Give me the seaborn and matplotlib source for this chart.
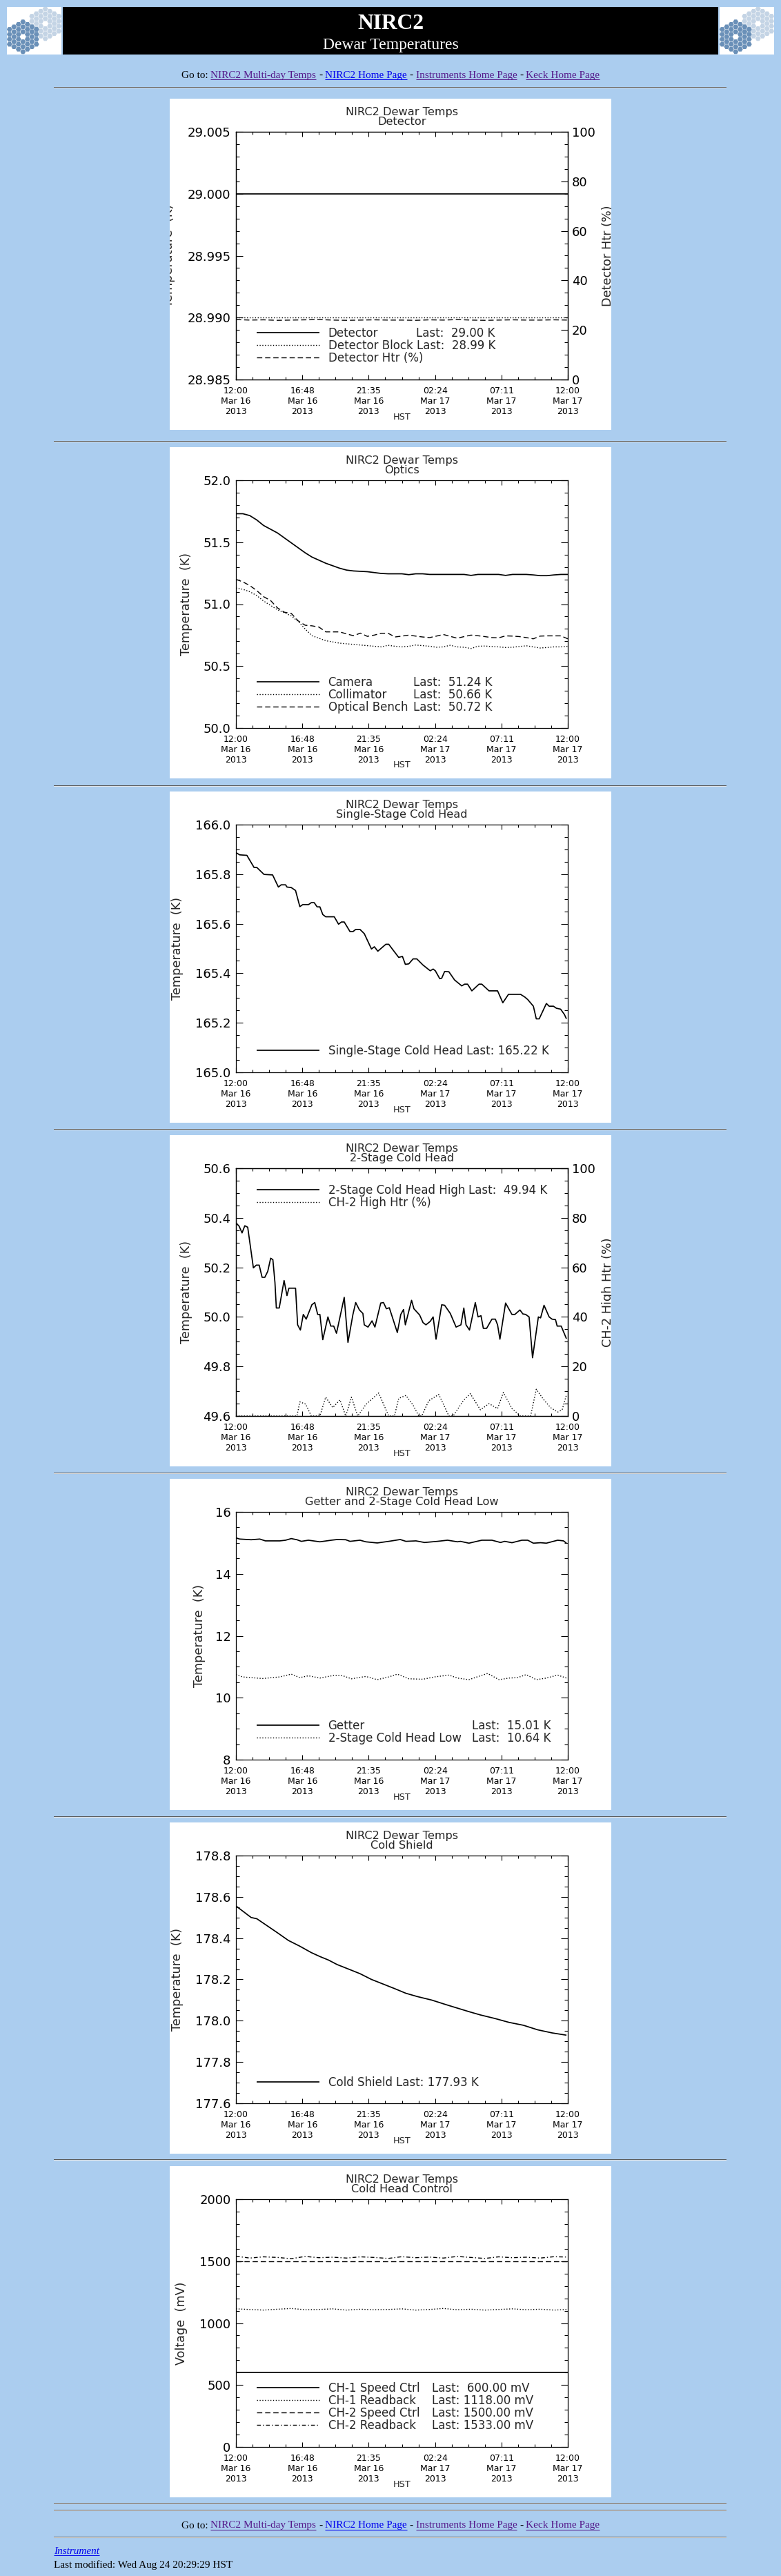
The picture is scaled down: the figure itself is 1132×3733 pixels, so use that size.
import numpy as np
import seaborn as sns
import matplotlib
matplotlib.use('Agg')
import matplotlib.pyplot as plt
from matplotlib.lines import Line2D
from matplotlib.patches import Rectangle, RegularPolygon
from matplotlib.ticker import MultipleLocator, FormatStrFormatter
from matplotlib.transforms import Bbox, TransformedBbox

# ---------------------------------------------------------------- data
TIME_TICKS = [0, 4.8, 9.6, 14.4, 19.2, 24]
TIME_LABELS = ['12:00\nMar 16\n2013', '16:48\nMar 16\n2013', '21:35\nMar 16\n2013',
               '02:24\nMar 17\n2013', '07:11\nMar 17\n2013', '12:00\nMar 17\n2013']
HOURLY = list(range(25))
HALF_HOURLY = [i * 0.5 for i in range(49)]
ENDS = [0, 24]

# Detector
DET_TEMP = [29.000, 29.000]
DET_BLOCK = [28.990, 28.990]
DET_HTR = [24.2, 24.0, 24.1, 23.9, 24.0, 24.1, 24.2, 24.0, 23.9, 24.0, 24.1, 24.0, 24.0,
           23.9, 24.1, 24.0, 24.2, 24.0, 23.9, 24.0, 24.1, 24.0, 24.0, 24.1, 24.0]
DET_LEGEND = [('solid', 'Detector', 'Last:  29.00 K'),
              ('dotted', 'Detector Block', 'Last:  28.99 K'),
              ('dashed', 'Detector Htr (%)', '')]

# Optics
OPTICS_CAMERA = [51.73, 51.73, 51.715, 51.68, 51.635, 51.605, 51.575, 51.535, 51.495, 51.455,
                 51.415, 51.38, 51.355, 51.33, 51.31, 51.29, 51.275, 51.268, 51.265, 51.262,
                 51.255, 51.248, 51.245, 51.245, 51.245, 51.238, 51.245, 51.245, 51.24, 51.24,
                 51.24, 51.24, 51.24, 51.24, 51.232, 51.24, 51.24, 51.24, 51.24, 51.232,
                 51.24, 51.24, 51.24, 51.236, 51.23, 51.23, 51.236, 51.24, 51.24]
OPTICS_COLLIMATOR = [51.13, 51.12, 51.10, 51.07, 51.025, 50.99, 50.955, 50.93, 50.905, 50.86,
                     50.80, 50.745, 50.725, 50.705, 50.695, 50.685, 50.68, 50.675, 50.67, 50.665,
                     50.66, 50.655, 50.668, 50.66, 50.655, 50.66, 50.67, 50.665, 50.66, 50.652,
                     50.655, 50.668, 50.655, 50.652, 50.642, 50.66, 50.662, 50.658, 50.655, 50.65,
                     50.652, 50.658, 50.664, 50.655, 50.646, 50.65, 50.655, 50.655, 50.66]
OPTICS_BENCH = [51.20, 51.18, 51.15, 51.11, 51.06, 51.03, 50.97, 50.935, 50.925, 50.865,
                50.83, 50.825, 50.815, 50.776, 50.776, 50.776, 50.76, 50.745, 50.766, 50.74,
                50.75, 50.765, 50.765, 50.735, 50.742, 50.75, 50.742, 50.735, 50.73, 50.742,
                50.755, 50.74, 50.725, 50.738, 50.75, 50.745, 50.738, 50.73, 50.728, 50.744,
                50.742, 50.738, 50.73, 50.72, 50.742, 50.744, 50.744, 50.744, 50.72]
OPTICS_LEGEND = [('solid', 'Camera', 'Last:  51.24 K'),
                 ('dotted', 'Collimator', 'Last:  50.66 K'),
                 ('dashed', 'Optical Bench', 'Last:  50.72 K')]

# Single-stage cold head
SSCH_HOURS = [0.0, 0.27, 0.79, 1.31, 1.51, 2.03, 2.65, 3.07, 3.27, 3.59,
              3.69, 4.0, 4.31, 4.62, 4.83, 5.24, 5.45, 5.66, 5.87, 6.07,
              6.28, 6.49, 7.11, 7.42, 7.63, 7.83, 8.25, 8.46, 8.66, 8.97,
              9.28, 9.80, 10.01, 10.26, 10.84, 11.05, 11.36, 11.77, 12.04, 12.25,
              12.50, 12.81, 13.08, 13.53, 14.05, 14.26, 14.42, 14.74, 14.88, 15.09,
              15.40, 15.81, 16.33, 16.54, 16.75, 17.06, 17.58, 17.78, 18.30, 18.92,
              19.30, 19.71, 20.58, 20.89, 21.10, 21.51, 21.72, 21.93, 22.45, 22.65,
              22.96, 23.17, 23.48, 23.75, 23.90]
SSCH_TEMP = [165.887, 165.878, 165.876, 165.827, 165.827, 165.799, 165.797, 165.748, 165.757, 165.757,
             165.748, 165.746, 165.734, 165.669, 165.677, 165.677, 165.685, 165.685, 165.668, 165.668,
             165.637, 165.628, 165.628, 165.598, 165.607, 165.607, 165.568, 165.568, 165.577, 165.577,
             165.560, 165.498, 165.507, 165.489, 165.517, 165.517, 165.494, 165.464, 165.468, 165.436,
             165.438, 165.458, 165.458, 165.433, 165.410, 165.417, 165.410, 165.378, 165.380, 165.407,
             165.406, 165.373, 165.349, 165.356, 165.356, 165.329, 165.356, 165.356, 165.329, 165.329,
             165.281, 165.315, 165.315, 165.304, 165.294, 165.267, 165.216, 165.216, 165.278, 165.267,
             165.267, 165.259, 165.255, 165.234, 165.216]
SSCH_LEGEND = [('solid', 'Single-Stage Cold Head', 'Last: 165.22 K')]

# 2-stage cold head
CH2_HOURS = [0.0, 0.23, 0.44, 0.64, 0.85, 1.06, 1.26, 1.47, 1.68, 1.89,
             2.09, 2.30, 2.51, 2.67, 2.82, 2.92, 3.13, 3.48, 3.69, 3.83,
             4.31, 4.46, 4.66, 4.87, 5.08, 5.49, 5.70, 5.91, 6.07, 6.28,
             6.65, 6.86, 7.07, 7.27, 7.83, 8.10, 8.46, 8.66, 8.93, 9.18,
             9.28, 9.55, 9.84, 10.05, 10.47, 10.67, 10.88, 11.09, 11.67, 11.92,
             12.12, 12.25, 12.70, 12.87, 13.28, 13.53, 13.74, 14.05, 14.26, 14.47,
             14.88, 15.09, 15.50, 15.92, 16.27, 16.48, 16.64, 16.89, 17.31, 17.51,
             17.72, 17.89, 18.13, 18.51, 18.76, 18.92, 19.09, 19.50, 19.96, 20.17,
             20.54, 20.75, 20.95, 21.20, 21.45, 21.87, 22.03, 22.28, 22.65, 22.86,
             23.11, 23.23, 23.52, 23.90]
CH2_TEMP = [50.380, 50.366, 50.339, 50.368, 50.362, 50.278, 50.198, 50.209, 50.209, 50.160,
            50.160, 50.184, 50.237, 50.231, 50.139, 50.036, 50.036, 50.147, 50.086, 50.116,
            50.116, 49.968, 49.947, 50.010, 49.991, 50.049, 50.058, 50.010, 50.010, 49.908,
            50.000, 49.963, 49.963, 49.934, 50.079, 49.897, 50.010, 50.058, 50.028, 50.014,
            49.968, 49.959, 49.984, 49.959, 50.056, 50.058, 50.033, 50.037, 49.937, 50.010,
            50.030, 49.968, 50.067, 50.033, 50.008, 49.977, 49.968, 49.982, 50.000, 49.910,
            50.049, 50.047, 50.014, 49.959, 49.968, 50.036, 49.968, 49.947, 50.058, 50.000,
            50.005, 49.954, 49.954, 49.991, 49.991, 49.968, 49.910, 50.056, 50.010, 50.010,
            50.028, 50.012, 50.010, 50.000, 49.835, 50.000, 49.996, 50.047, 50.000, 49.991,
            49.989, 49.963, 49.963, 49.912]
CH2_HTR_HOURS = [0.0, 4.41, 4.62, 5.04, 5.45, 6.07, 6.49, 7.00, 7.52, 7.94,
                 8.35, 8.81, 9.39, 10.32, 11.05, 11.46, 11.77, 12.29, 12.81, 13.22,
                 13.43, 13.95, 14.67, 15.40, 15.71, 16.44, 16.95, 17.68, 18.30, 18.92,
                 19.34, 19.96, 20.58, 21.31, 21.72, 22.24, 22.75, 23.27, 23.59, 23.90]
CH2_HTR = [0, 0, 5.7, 4.8, 0, 0, 7.6, 3.4, 6.5, 0,
           7.6, 0, 4.6, 9.3, 0, 0, 7.1, 8.3, 4.4, 0,
           0, 6.2, 8.7, 0, 0, 6.2, 9.0, 2.5, 5.0, 3.0,
           9.5, 3.0, 0, 0, 10.8, 6.7, 3.4, 1.6, 2.5, 8.5]
CH2_LEGEND = [('solid', '2-Stage Cold Head High', 'Last:  49.94 K'),
              ('dotted', 'CH-2 High Htr (%)', '')]

# Getter and 2-stage cold head low
GETTER_HOURS = [0.0, 0.27, 1.10, 1.72, 2.13, 3.17, 3.59, 4.0, 4.41, 4.73,
                5.24, 6.07, 6.90, 7.32, 7.94, 8.25, 8.97, 9.39, 10.22, 11.05,
                11.88, 12.29, 13.02, 13.64, 14.57, 15.30, 16.02, 16.23, 16.85, 17.78,
                18.51, 19.13, 19.44, 19.96, 20.68, 21.10, 21.51, 22.03, 22.45, 23.27,
                23.69, 23.90]
GETTER_TEMP = [15.161, 15.124, 15.102, 15.124, 15.065, 15.065, 15.087, 15.139, 15.102, 15.050,
               15.087, 15.035, 15.087, 15.109, 15.102, 15.050, 15.087, 15.035, 14.998, 15.050,
               15.109, 15.050, 15.065, 15.013, 15.050, 15.087, 15.035, 15.050, 14.991, 15.087,
               15.087, 15.013, 15.050, 15.006, 15.087, 15.087, 14.991, 15.006, 14.991, 15.087,
               15.065, 14.991]
CH2LOW_HOURS = [0.0, 0.48, 1.10, 1.93, 3.17, 4.0, 4.62, 5.24, 6.07, 7.11,
                7.73, 8.35, 9.39, 10.22, 11.05, 11.67, 12.50, 13.53, 14.36, 15.40,
                16.02, 16.85, 17.68, 18.20, 19.03, 19.75, 20.37, 20.99, 21.72, 22.45,
                23.27, 23.90]
CH2LOW_TEMP = [10.746, 10.672, 10.649, 10.620, 10.672, 10.761, 10.649, 10.709, 10.635, 10.724,
               10.709, 10.612, 10.687, 10.583, 10.672, 10.761, 10.612, 10.597, 10.672, 10.731,
               10.635, 10.583, 10.709, 10.783, 10.583, 10.635, 10.649, 10.746, 10.583, 10.635,
               10.731, 10.635]
GETTER_LEGEND = [('solid', 'Getter', 'Last:  15.01 K'),
                 ('dotted', '2-Stage Cold Head Low', 'Last:  10.64 K')]

# Cold shield
SHIELD_HOURS = [0.0, 1.10, 1.51, 2.96, 3.79, 4.62, 5.45, 6.07, 6.69, 7.32,
                8.15, 8.97, 9.80, 10.63, 11.46, 12.29, 13.12, 14.16, 15.19, 16.02,
                16.85, 17.68, 18.72, 19.75, 20.79, 21.82, 22.86, 23.90]
SHIELD_TEMP = [178.556, 178.500, 178.494, 178.428, 178.389, 178.361, 178.330, 178.311, 178.294, 178.272,
               178.250, 178.228, 178.200, 178.178, 178.156, 178.133, 178.117, 178.100, 178.078, 178.061,
               178.044, 178.028, 178.011, 177.992, 177.978, 177.956, 177.941, 177.930]
SHIELD_LEGEND = [('solid', 'Cold Shield', 'Last: 177.93 K')]

# Cold head control
CH1_SPEED = [600, 600]
CH1_READBACK = [1115, 1110, 1105, 1112, 1118, 1108, 1110, 1115, 1105, 1112, 1108, 1110, 1115,
                1105, 1110, 1118, 1108, 1112, 1105, 1110, 1115, 1108, 1112, 1105, 1110]
CH2_SPEED = [1500, 1500]
CH2_READBACK = [1540, 1525, 1535, 1530, 1520, 1538, 1528, 1532, 1525, 1535, 1530, 1522, 1536,
                1528, 1533, 1525, 1538, 1530, 1522, 1535, 1528, 1532, 1525, 1536, 1533]
CONTROL_LEGEND = [('solid', 'CH-1 Speed Ctrl', 'Last:  600.00 mV'),
                  ('dotted', 'CH-1 Readback', 'Last: 1118.00 mV'),
                  ('dashed', 'CH-2 Speed Ctrl', 'Last: 1500.00 mV'),
                  ('dashdot', 'CH-2 Readback', 'Last: 1533.00 mV')]

NAV_LINKS = [('NIRC2 Multi-day Temps', 'visited'), ('NIRC2 Home Page', 'link'),
             ('Instruments Home Page', 'visited'), ('Keck Home Page', 'visited')]

# ---------------------------------------------------------------- layout
PAGE_W, PAGE_H = 1132, 3733
BG = '#ABCDEF'
LINK_COLORS = {'link': '#0000EE', 'visited': '#551A8B'}
PANEL_LEFT, PANEL_W, PANEL_H = 246, 640, 480
PANEL_TOPS = [143, 648, 1147, 1645, 2143, 2641, 3139]
RULES = [126, 639, 1138, 1636, 2134, 2632, 3129, 3627, 3637, 3676]
AX_L, AX_R, AX_T, AX_B = 96, 577, 48, 407

STYLES = {
    'solid': dict(linestyle='-', linewidth=1.25),
    'dotted': dict(linestyle=(0, (1.0, 1.8)), linewidth=1.0),
    'dashed': dict(linestyle=(0, (5.5, 3.0)), linewidth=1.0),
    'dashdot': dict(linestyle=(0, (4.0, 2.2, 1.0, 2.2)), linewidth=1.0),
}

PANELS = [
    dict(subtitle='Detector', ylim=(28.985, 29.005), major=0.005, minor=0.001, fmt='%.3f',
         ylabel='Temperature  (K)', ylabel_x=-1.5, right='Detector Htr (%)',
         series=[(ENDS, DET_TEMP, 'solid', False), (ENDS, DET_BLOCK, 'dotted', False),
                 (HOURLY, DET_HTR, 'dashed', True)],
         legend=DET_LEGEND, legend_y=339, last_x=357),
    dict(subtitle='Optics', ylim=(50.0, 52.0), major=0.5, minor=0.1, fmt='%.1f',
         ylabel='Temperature  (K)', ylabel_x=24,
         series=[(HALF_HOURLY, OPTICS_CAMERA, 'solid', False),
                 (HALF_HOURLY, OPTICS_COLLIMATOR, 'dotted', False),
                 (HALF_HOURLY, OPTICS_BENCH, 'dashed', False)],
         legend=OPTICS_LEGEND, legend_y=340, last_x=353),
    dict(subtitle='Single-Stage Cold Head', ylim=(165.0, 166.0), major=0.2, minor=0.05, fmt='%.1f',
         ylabel='Temperature  (K)', ylabel_x=11.5,
         series=[(SSCH_HOURS, SSCH_TEMP, 'solid', False)],
         legend=SSCH_LEGEND, legend_y=375, last_x=0),
    dict(subtitle='2-Stage Cold Head', ylim=(49.6, 50.6), major=0.2, minor=0.05, fmt='%.1f',
         ylabel='Temperature  (K)', ylabel_x=24, right='CH-2 High Htr (%)',
         series=[(CH2_HOURS, CH2_TEMP, 'solid', False), (CH2_HTR_HOURS, CH2_HTR, 'dotted', True)],
         legend=CH2_LEGEND, legend_y=79, last_x=0),
    dict(subtitle='Getter and 2-Stage Cold Head Low', ylim=(8, 16), major=2, minor=0.5, fmt='%d',
         ylabel='Temperature  (K)', ylabel_x=42.5,
         series=[(GETTER_HOURS, GETTER_TEMP, 'solid', False),
                 (CH2LOW_HOURS, CH2LOW_TEMP, 'dotted', False)],
         legend=GETTER_LEGEND, legend_y=357, last_x=438),
    dict(subtitle='Cold Shield', ylim=(177.6, 178.8), major=0.2, minor=0.05, fmt='%.1f',
         ylabel='Temperature  (K)', ylabel_x=11.5,
         series=[(SHIELD_HOURS, SHIELD_TEMP, 'solid', False)],
         legend=SHIELD_LEGEND, legend_y=376, last_x=0),
    dict(subtitle='Cold Head Control', ylim=(0, 2000), major=500, minor=100, fmt='%d',
         ylabel='Voltage  (mV)', ylabel_x=17.5,
         series=[(ENDS, CH1_SPEED, 'solid', False), (HOURLY, CH1_READBACK, 'dotted', False),
                 (ENDS, CH2_SPEED, 'dashed', False), (HOURLY, CH2_READBACK, 'dashdot', False)],
         legend=CONTROL_LEGEND, legend_y=321, last_x=380),
]


def fx(px):
    return px / PAGE_W


def fy(py):
    return 1.0 - py / PAGE_H


def page_rect(fig, x0, y0, x1, y1, color, z=-2):
    fig.add_artist(Rectangle((fx(x0), fy(y1)), (x1 - x0) / PAGE_W, (y1 - y0) / PAGE_H,
                             transform=fig.transFigure, facecolor=color,
                             edgecolor='none', zorder=z))


def panel_text(fig, top, ix, iy, s, **kw):
    """Text in panel pixel coordinates, clipped to the white plot image"""
    t = fig.text(fx(PANEL_LEFT + ix), fy(top + iy), s, **kw)
    box = Bbox.from_extents(fx(PANEL_LEFT), fy(top + PANEL_H),
                            fx(PANEL_LEFT + PANEL_W), fy(top))
    t.set_clip_box(TransformedBbox(box, fig.transFigure))
    t.set_clip_on(True)
    return t


def draw_logo(fig, left):
    ax = fig.add_axes([fx(left), fy(79), 79 / PAGE_W, 69 / PAGE_H])
    ax.set_xlim(0, 79)
    ax.set_ylim(69, 0)
    ax.set_xticks([])
    ax.set_yticks([])
    for s in ax.spines.values():
        s.set_visible(False)
    ax.set_facecolor('white')
    for (cx, cy), color in [((55.7, 24.3), '#C4D4E5'), ((23.3, 43.3), '#6A90B8')]:
        for q in range(-3, 4):
            n = 7 - abs(q)
            for k in range(n):
                if q == 0 and k == 3:
                    continue
                ax.add_patch(RegularPolygon((cx + q * 6.5, cy + (k - (n - 1) / 2) * 7.2), 6,
                                            radius=3.9, orientation=np.pi / 6,
                                            facecolor=color, edgecolor='none'))


def draw_nav(fig, renderer, baseline):
    kw = dict(family='Liberation Serif', fontsize=11, va='baseline', ha='left')

    def width(s):
        t = fig.text(0, 0, s, **kw)
        w = t.get_window_extent(renderer).width
        t.remove()
        return w

    space = width('x x') - width('xx')
    parts = [('Go to:', 'black', False)]
    for i, (label, kind) in enumerate(NAV_LINKS):
        if i:
            parts.append(('-', 'black', False))
        parts.append((label, LINK_COLORS[kind], True))
    widths = [width(p[0]) for p in parts]
    x = 566 - (sum(widths) + space * (len(parts) - 1)) / 2
    for (label, color, underline), w in zip(parts, widths):
        fig.text(fx(x), fy(baseline), label, color=color, **kw)
        if underline:
            fig.add_artist(Line2D([fx(x), fx(x + w)], [fy(baseline + 2)] * 2, color=color,
                                  linewidth=0.75, transform=fig.transFigure))
        x += w + space


def draw_panel(fig, renderer, top, spec):
    page_rect(fig, PANEL_LEFT, top, PANEL_LEFT + PANEL_W, top + PANEL_H, 'white', z=-1)
    ax = fig.add_axes([fx(PANEL_LEFT + AX_L), fy(top + AX_B),
                       (AX_R - AX_L) / PAGE_W, (AX_B - AX_T) / PAGE_H])
    twin = 'right' in spec
    ax2 = ax.twinx() if twin else None

    for hours, values, style, on_right in spec['series']:
        sns.lineplot(x=hours, y=values, ax=ax2 if on_right else ax, color='black',
                     estimator=None, sort=False, **STYLES[style])

    ax.set_xlim(0, 24)
    ax.set_ylim(*spec['ylim'])
    ax.set_xticks(TIME_TICKS)
    ax.set_xticklabels(TIME_LABELS, linespacing=1.22)
    ax.xaxis.set_minor_locator(MultipleLocator(1.2))
    ax.yaxis.set_major_locator(MultipleLocator(spec['major']))
    ax.yaxis.set_minor_locator(MultipleLocator(spec['minor']))
    ax.yaxis.set_major_formatter(FormatStrFormatter(spec['fmt']))
    ax.set_ylabel('')
    ax.set_xlabel('HST', fontsize=9.2, va='center')
    ax.xaxis.set_label_coords(0.5, 1 - (461 - AX_T) / (AX_B - AX_T))

    ax.tick_params(axis='x', which='major', direction='in', length=5.2, width=0.8,
                   top=True, bottom=True, labelsize=9.0, pad=7.0)
    ax.tick_params(axis='x', which='minor', direction='in', length=2.6, width=0.8,
                   top=True, bottom=True)
    ax.tick_params(axis='y', which='major', direction='in', length=6.9, width=0.8,
                   left=True, right=not twin, labelsize=13, pad=5.4)
    ax.tick_params(axis='y', which='minor', direction='in', length=3.5, width=0.8,
                   left=True, right=not twin)
    for s in ax.spines.values():
        s.set_linewidth(0.9)

    if twin:
        ax2.set_ylim(0, 100)
        ax2.set_ylabel('')
        ax2.yaxis.set_major_locator(MultipleLocator(20))
        ax2.yaxis.set_minor_locator(MultipleLocator(5))
        ax2.yaxis.set_major_formatter(FormatStrFormatter('%d'))
        ax2.tick_params(axis='y', which='major', direction='in', length=6.9, width=0.8,
                        labelsize=13, pad=4.3)
        ax2.tick_params(axis='y', which='minor', direction='in', length=3.5, width=0.8)
        for s in ax2.spines.values():
            s.set_linewidth(0.9)
        panel_text(fig, top, 626, 227.5, spec['right'], rotation=90, ha='left',
                   va='center', fontsize=12.7)

    # titles and axis labels
    mid = (AX_L + AX_R) / 2
    panel_text(fig, top, mid, 23.6, 'NIRC2 Dewar Temps', ha='center', va='baseline',
               fontsize=11.6)
    panel_text(fig, top, mid, 38.2, spec['subtitle'], ha='center', va='baseline',
               fontsize=11.6)
    panel_text(fig, top, spec['ylabel_x'], 227.5, spec['ylabel'], rotation=90,
               ha='center', va='center', fontsize=12.7)

    # IDL style legend drawn inside the plot
    space = 5.3
    for i, (style, name, last) in enumerate(spec['legend']):
        yc = spec['legend_y'] + 18 * i
        fig.add_artist(Line2D([fx(PANEL_LEFT + 126), fx(PANEL_LEFT + 217)],
                              [fy(top + yc)] * 2, color='black', zorder=4,
                              transform=fig.transFigure, **STYLES[style]))
        t = panel_text(fig, top, 229.5, yc + 6.1, name, va='baseline', fontsize=12)
        if last:
            w = t.get_window_extent(renderer).width
            x = max(spec['last_x'], 229.5 + w + space)
            panel_text(fig, top, x, yc + 6.1, last, va='baseline', fontsize=12)


def execute():
    """Generate the page"""
    sns.set_style('ticks')
    plt.rcParams['font.family'] = ['DejaVu Sans']
    plt.rcParams['lines.scale_dashes'] = False
    plt.rcParams['lines.solid_capstyle'] = 'butt'
    plt.rcParams['lines.dash_capstyle'] = 'butt'
    plt.rcParams['axes.edgecolor'] = 'black'
    plt.rcParams['xtick.color'] = 'black'
    plt.rcParams['ytick.color'] = 'black'

    fig = plt.figure(figsize=(PAGE_W / 100, PAGE_H / 100), dpi=100, facecolor=BG)
    renderer = fig.canvas.get_renderer()

    # Header banner
    page_rect(fig, 91, 10, 1041, 79, 'black')
    draw_logo(fig, 10)
    draw_logo(fig, 1043)
    fig.text(fx(566), fy(42), 'NIRC2', color='white', family='Liberation Serif',
             fontweight='bold', fontsize=22.7, ha='center', va='baseline')
    fig.text(fx(566), fy(70.5), 'Dewar Temperatures', color='white',
             family='Liberation Serif', fontsize=17, ha='center', va='baseline')

    draw_nav(fig, renderer, 113)
    draw_nav(fig, renderer, 3663.5)

    for y in RULES:
        page_rect(fig, 78, y, 1053, y + 1, '#5c5c5c', z=1)
        page_rect(fig, 78, y + 1, 1053, y + 2, '#e2e2e2', z=1)

    for top, spec in zip(PANEL_TOPS, PANELS):
        draw_panel(fig, renderer, top, spec)

    # Footer
    t = fig.text(fx(78), fy(3701), 'Instrument', color=LINK_COLORS['link'],
                 family='Liberation Serif', style='italic', fontsize=11,
                 ha='left', va='baseline')
    w = t.get_window_extent(renderer).width
    fig.add_artist(Line2D([fx(78), fx(78 + w)], [fy(3703)] * 2, color=LINK_COLORS['link'],
                          linewidth=0.75, transform=fig.transFigure))
    fig.text(fx(78), fy(3721), 'Last modified: Wed Aug 24 20:29:29 HST', color='black',
             family='Liberation Serif', fontsize=11, ha='left', va='baseline')

    fig.savefig('out.png', dpi=100, facecolor=BG)


if __name__ == '__main__':
    execute()
